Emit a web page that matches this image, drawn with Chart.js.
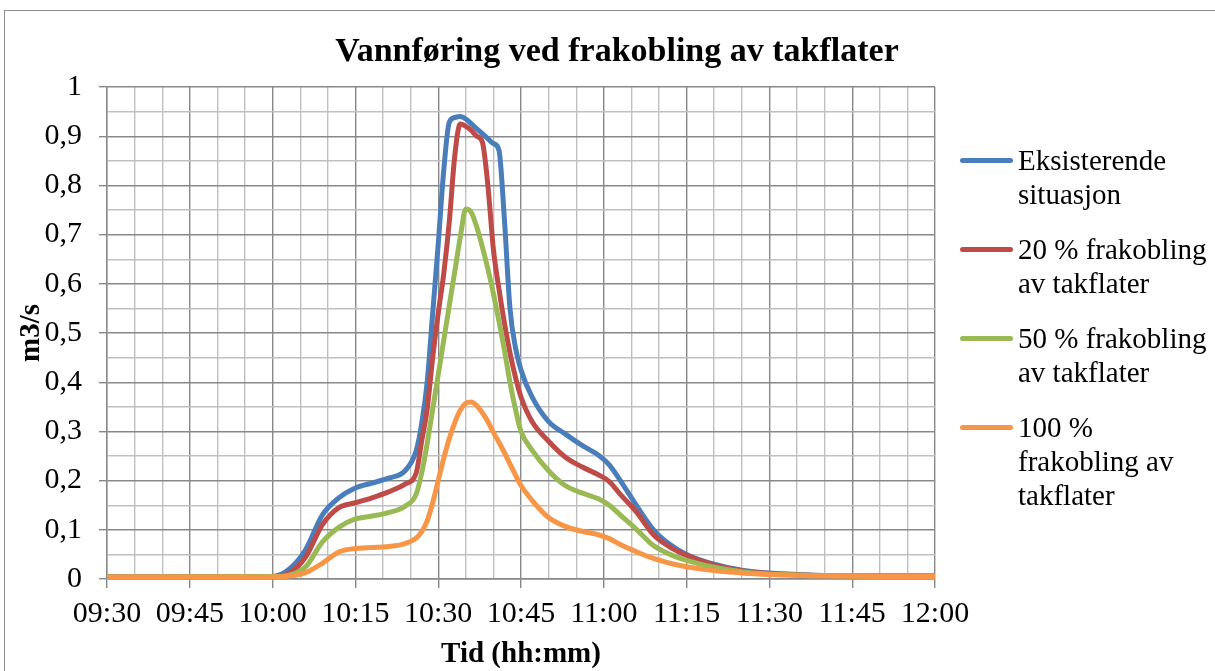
<!DOCTYPE html>
<html>
<head>
<meta charset="utf-8">
<script src="https://cdn.jsdelivr.net/npm/chart.js@4.4.1/dist/chart.umd.min.js"></script>
<style>
    html, body { margin: 0; padding: 0; background: #fff; overflow: hidden; }
    #wrap { position: relative; width: 1215px; height: 671px; overflow: hidden; }
    #frame { position: absolute; left: 4px; top: 10px; width: 1300px; height: 700px; border: 1.5px solid #8c8c8c; }
    #title { position: absolute; left: 0; width: 1234px; top: 33px; text-align: center;
             font: bold 34px "Liberation Serif"; line-height: 1; color: #000; }
    #chart { position: absolute; left: 0; top: 0; }
    #legend { position: absolute; left: 960px; top: 143px; font: 29px "Liberation Serif"; color: #000; }
    .item { display: flex; align-items: flex-start; margin-bottom: 21px; }
    .swatch { width: 53px; height: 5px; border-radius: 3px; margin-top: 14.5px; margin-right: 5px; flex: none; }
    .text { line-height: 34px; white-space: nowrap; }
</style>
</head>
<body>
<div id="wrap">
    <div id="frame"></div>
    <canvas id="chart" width="1215" height="671"></canvas>
    <div id="title">Vannføring ved frakobling av takflater</div>
    <div id="legend"></div>
</div>
<script>
    const startTime = '09:30';
    const times = ['09:30', '10:00', '10:03', '10:06', '10:09', '10:12', '10:15', '10:18', '10:21', '10:24',
        '10:26', '10:27', '10:28', '10:29', '10:30', '10:31', '10:32', '10:33', '10:34', '10:35',
        '10:36', '10:37', '10:38', '10:39', '10:40', '10:41', '10:42', '10:43', '10:44', '10:45',
        '10:47', '10:50', '10:53', '10:56', '10:59', '11:01', '11:03', '11:06', '11:09', '11:12',
        '11:15', '11:20', '11:25', '11:30', '11:40', '11:50', '12:00'];

    const eksisterende = [0.004, 0.005, 0.02, 0.06, 0.13, 0.165, 0.185, 0.195, 0.205, 0.22,
        0.26, 0.315, 0.40, 0.54, 0.68, 0.83, 0.928, 0.938, 0.94, 0.935,
        0.925, 0.915, 0.905, 0.895, 0.885, 0.872, 0.73, 0.55, 0.47, 0.425,
        0.37, 0.32, 0.295, 0.272, 0.252, 0.232, 0.20, 0.148, 0.10, 0.07,
        0.05, 0.03, 0.018, 0.012, 0.007, 0.006, 0.006];
    const frakobling20 = [0.004, 0.005, 0.012, 0.045, 0.11, 0.145, 0.155, 0.165, 0.177, 0.193,
        0.215, 0.28, 0.345, 0.45, 0.54, 0.62, 0.725, 0.86, 0.925, 0.92,
        0.912, 0.90, 0.888, 0.80, 0.67, 0.59, 0.52, 0.46, 0.41, 0.37,
        0.32, 0.28, 0.248, 0.228, 0.212, 0.198, 0.172, 0.135, 0.09, 0.065,
        0.048, 0.028, 0.017, 0.011, 0.007, 0.006, 0.006];
    const frakobling50 = [0.004, 0.005, 0.008, 0.025, 0.075, 0.105, 0.122, 0.128, 0.135, 0.148,
        0.172, 0.215, 0.275, 0.345, 0.415, 0.485, 0.555, 0.625, 0.695, 0.752,
        0.745, 0.715, 0.675, 0.63, 0.58, 0.525, 0.465, 0.40, 0.345, 0.30,
        0.262, 0.22, 0.19, 0.175, 0.163, 0.15, 0.13, 0.10, 0.068, 0.05,
        0.038, 0.024, 0.015, 0.01, 0.007, 0.006, 0.006];
    const frakobling100 = [0.004, 0.004, 0.006, 0.013, 0.032, 0.055, 0.062, 0.064, 0.066, 0.072,
        0.083, 0.096, 0.118, 0.155, 0.20, 0.245, 0.285, 0.318, 0.343, 0.357,
        0.36, 0.352, 0.338, 0.32, 0.298, 0.278, 0.257, 0.234, 0.211, 0.19,
        0.16, 0.125, 0.107, 0.097, 0.09, 0.082, 0.07, 0.055, 0.042, 0.032,
        0.025, 0.017, 0.012, 0.009, 0.006, 0.005, 0.005];

    const seriesNames = [
        ['Eksisterende', 'situasjon'],
        ['20 % frakobling', 'av takflater'],
        ['50 % frakobling', 'av takflater'],
        ['100 %', 'frakobling av', 'takflater']
    ];
    const seriesValues = [eksisterende, frakobling20, frakobling50, frakobling100];
    const seriesColors = ['#4a7ebb', '#be4b48', '#98b954', '#f79646'];

    const yTicks = ['0', '0,1', '0,2', '0,3', '0,4', '0,5', '0,6', '0,7', '0,8', '0,9', '1'];
    const xTicks = ['09:30', '09:45', '10:00', '10:15', '10:30', '10:45', '11:00', '11:15', '11:30', '11:45', '12:00'];

    function toMinutes(t) {
        const [h, m] = t.split(':').map(Number);
        const [h0, m0] = startTime.split(':').map(Number);
        return (h * 60 + m) - (h0 * 60 + m0);
    }

    const isMajorX = v => Math.abs(v % 15) < 1e-6;
    const isMajorY = v => Math.abs(v * 10 - Math.round(v * 10)) < 1e-6;
    const majorGrid = '#888888';
    const minorGrid = '#c0c0c0';
    const serif = 'Liberation Serif';

    const datasets = seriesValues.map((vals, i) => ({
        label: seriesNames[i].join(' '),
        data: vals.map((v, j) => ({ x: toMinutes(times[j]), y: v })),
        borderColor: seriesColors[i],
        backgroundColor: seriesColors[i],
        borderWidth: 5,
        pointRadius: 0,
        cubicInterpolationMode: 'monotone',
        borderCapStyle: 'round',
        borderJoinStyle: 'round',
        fill: false,
        order: seriesValues.length - i
    }));

    new Chart(document.getElementById('chart').getContext('2d'), {
        type: 'line',
        data: { datasets: datasets },
        options: {
            responsive: false,
            animation: false,
            layout: { padding: { left: 0, top: 87, right: 280, bottom: 0 } },
            plugins: { legend: { display: false }, tooltip: { enabled: false } },
            scales: {
                x: {
                    type: 'linear',
                    min: 0,
                    max: 150,
                    afterFit: s => { s.height = 92; },
                    ticks: {
                        stepSize: 5,
                        autoSkip: false,
                        maxRotation: 0,
                        padding: 8,
                        color: '#000',
                        font: { family: serif, size: 30 },
                        callback: v => isMajorX(v) ? xTicks[Math.round(v / 15)] : ''
                    },
                    grid: {
                        color: c => isMajorX(c.tick.value) ? majorGrid : minorGrid,
                        lineWidth: 1.4,
                        tickLength: 9,
                        tickColor: c => isMajorX(c.tick.value) ? majorGrid : 'rgba(0,0,0,0)'
                    },
                    border: { color: majorGrid, width: 1.4 },
                    title: {
                        display: true,
                        text: 'Tid (hh:mm)',
                        color: '#000',
                        font: { family: serif, size: 29, weight: 'bold' },
                        padding: { top: 0, bottom: -1 }
                    }
                },
                y: {
                    min: 0,
                    max: 1,
                    afterFit: s => { s.width = 107; },
                    ticks: {
                        stepSize: 0.05,
                        autoSkip: false,
                        padding: 17,
                        color: '#000',
                        font: { family: serif, size: 30 },
                        callback: v => isMajorY(v) ? yTicks[Math.round(v * 10)] : ''
                    },
                    grid: {
                        color: c => isMajorY(c.tick.value) ? majorGrid : minorGrid,
                        lineWidth: 1.4,
                        tickLength: 8,
                        tickColor: c => isMajorY(c.tick.value) ? majorGrid : 'rgba(0,0,0,0)'
                    },
                    border: { color: majorGrid, width: 1.4 },
                    title: {
                        display: true,
                        text: 'm3/s',
                        color: '#000',
                        font: { family: serif, size: 29, weight: 'bold' },
                        padding: { top: 14, bottom: 0 }
                    }
                }
            }
        }
    });

    // legend on the right, built from the series
    const legend = document.getElementById('legend');
    seriesNames.forEach((lines, i) => {
        const item = document.createElement('div');
        item.className = 'item';
        item.innerHTML = `<div class="swatch" style="background:${seriesColors[i]}"></div>` +
            `<div class="text">${lines.join('<br>')}</div>`;
        legend.appendChild(item);
    });
</script>
</body>
</html>
